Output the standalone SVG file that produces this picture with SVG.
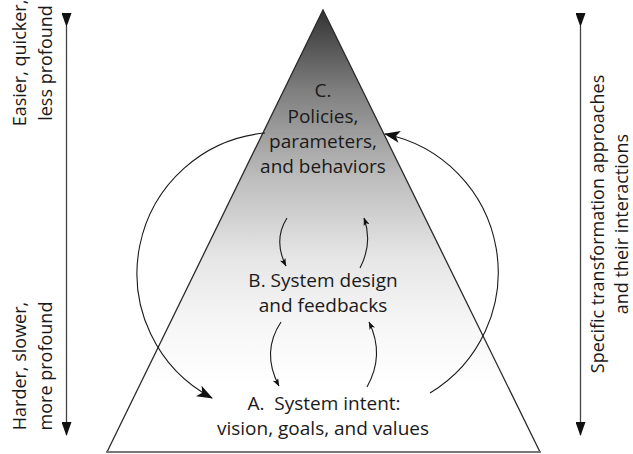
<svg xmlns="http://www.w3.org/2000/svg" width="633" height="454" viewBox="0 0 633 454">
<style>
.t{font-family:"Open Sans","Noto Sans","DejaVu Sans",sans-serif;font-size:19px;fill:#1a1a1a;text-anchor:middle;white-space:pre}
.s{font-size:18px}
.c{fill:none;stroke:#1a1a1a;stroke-width:1.1}
.ax{fill:none;stroke:#444;stroke-width:1.3}
</style>
<defs>
<linearGradient id="g" x1="0" y1="10" x2="0" y2="452" gradientUnits="userSpaceOnUse">
<stop offset="0" stop-color="#333"/>
<stop offset="0.18" stop-color="#7e7e7e"/>
<stop offset="0.38" stop-color="#bdbdbd"/>
<stop offset="0.56" stop-color="#e6e6e6"/>
<stop offset="0.72" stop-color="#f7f7f7"/>
<stop offset="0.85" stop-color="#fff"/>
<stop offset="1" stop-color="#fff"/>
</linearGradient>
<marker id="big" viewBox="0 0 16 12" refX="15" refY="6" markerWidth="16" markerHeight="12" markerUnits="userSpaceOnUse" orient="auto">
<path d="M0,0 L16,6 L0,12 L4,6 Z" fill="#111"/>
</marker>
<marker id="sm" viewBox="0 0 8 6" refX="7.5" refY="3" markerWidth="8" markerHeight="6" markerUnits="userSpaceOnUse" orient="auto">
<path d="M0,0 L8,3 L0,6 L2,3 Z" fill="#111"/>
</marker>
<marker id="ax" viewBox="0 0 14 10" refX="13" refY="5" markerWidth="14" markerHeight="10" markerUnits="userSpaceOnUse" orient="auto">
<path d="M0,0 L14,5 L0,10 Z" fill="#111"/>
</marker>
</defs>

<g id="pyramid">
<path d="M323,10 L107,452 L540,452 Z" fill="url(#g)" stroke="none"/>
<path d="M107,452 L323,10 L540,452" fill="none" stroke="#2a2a2a" stroke-width="1.3"/>
<path d="M106,452 L541,452" fill="none" stroke="#777" stroke-width="2"/>
</g>

<g id="axis-left">
<line class="ax" x1="66.5" y1="26" x2="66.5" y2="435" marker-start="url(#ax)" marker-end="url(#ax)"/>
<text class="t s" transform="translate(26,63) rotate(-90)">Easier, quicker,</text>
<text class="t s" transform="translate(52,63) rotate(-90)">less profound</text>
<text class="t s" transform="translate(26,366) rotate(-90)">Harder, slower,</text>
<text class="t s" transform="translate(52,366) rotate(-90)">more profound</text>
</g>

<g id="axis-right">
<line class="ax" x1="580.5" y1="26" x2="580.5" y2="435" marker-start="url(#ax)" marker-end="url(#ax)"/>
<text class="t s" transform="translate(604,224) rotate(-90)">Specific transformation approaches</text>
<text class="t s" transform="translate(628,224) rotate(-90)">and their interactions</text>
</g>

<g id="node-c">
<text class="t" x="323" y="97">C.</text>
<text class="t" x="323" y="123">Policies,</text>
<text class="t" x="323" y="148">parameters,</text>
<text class="t" x="323" y="173">and behaviors</text>
</g>

<g id="node-b">
<text class="t" x="323" y="287">B. System design</text>
<text class="t" x="323" y="312">and feedbacks</text>
</g>

<g id="node-a">
<text class="t" x="324" y="410">A.  System intent:</text>
<text class="t" x="323" y="435">vision, goals, and values</text>
</g>

<g id="connectors">
<path class="c" d="M265,133 A141,141 0 0 0 212,398" marker-end="url(#big)"/>
<path class="c" d="M430,393 A141,141 0 0 0 385,134" marker-end="url(#big)"/>
<path class="c" d="M287,218 Q273,240 286,266" marker-end="url(#sm)"/>
<path class="c" d="M360,268 Q373,243 364,218" marker-end="url(#sm)"/>
<path class="c" d="M281,322 Q261,352 279,386" marker-end="url(#sm)"/>
<path class="c" d="M367,387 Q385,355 369,322" marker-end="url(#sm)"/>
</g>
</svg>
